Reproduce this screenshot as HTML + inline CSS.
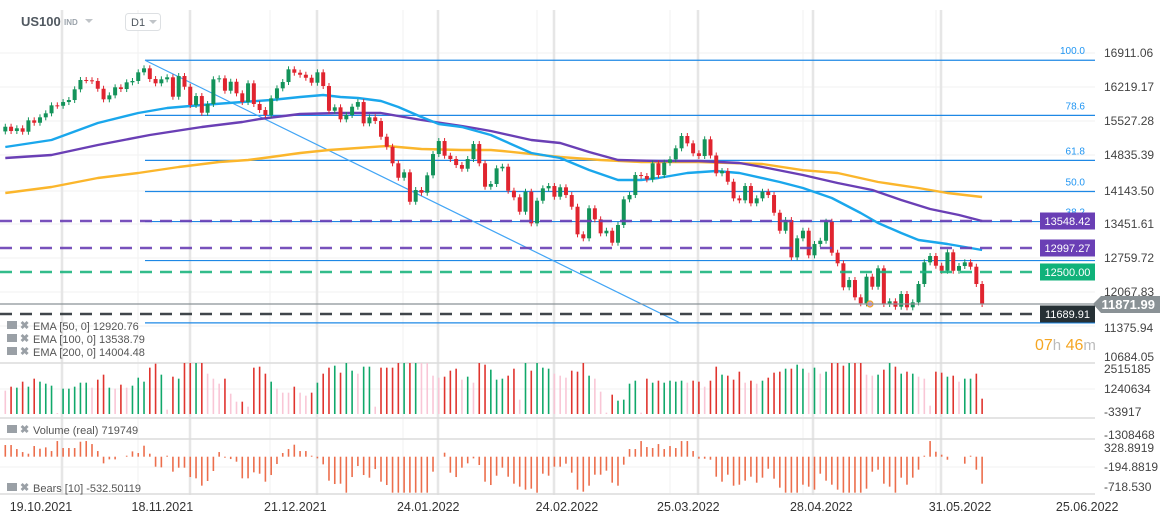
<!DOCTYPE html>
<html><head><meta charset="utf-8">
<style>
html,body{margin:0;padding:0;background:#fff;}
body{width:1163px;height:520px;overflow:hidden;font-family:"Liberation Sans",sans-serif;position:relative;}
svg{position:absolute;left:0;top:0;}
</style></head>
<body>
<svg id="chart" width="1163" height="520" viewBox="0 0 1163 520" xmlns="http://www.w3.org/2000/svg" font-family="Liberation Sans, sans-serif">
  <g id="grid"></g>
  <g id="fib"></g>
  <g id="emas"></g>
  <g id="candles"></g>
  <g id="levels"></g>
  <g id="volume"></g>
  <g id="bears"></g>
  <g id="axes"></g>
  <g>
    <text x="21" y="26" font-size="13" font-weight="bold" fill="#505860">US100</text>
    <text x="64" y="25" font-size="8" font-weight="bold" fill="#9aa2aa">IND</text>
    <path d="M85 19 L93 19 L89 23 Z" fill="#c0c4c8"/>
    <rect x="125.5" y="13.5" width="35" height="17" rx="3" fill="#fff" stroke="#dde0e3"/>
    <text x="131" y="26" font-size="11" fill="#505860">D1</text>
    <path d="M149 20 L157 20 L153 24 Z" fill="#c0c4c8"/>
  </g>
  <g id="legend"></g>
</svg>
<script>
// ---------- DATA ----------
const firstOpen = 15320;
const closes = [15415,15328,15383,15314,15545,15496,15606,15687,15849,15840,
15916,15957,16174,16363,16357,16343,16186,15971,16052,16215,
16180,16316,16343,16519,16600,16383,16296,16377,16418,16024,
16444,16227,15856,16038,15699,15876,16377,16397,16146,16328,
16093,15916,16296,15876,15754,15653,15991,16194,16322,16580,
16511,16470,16409,16308,16519,16241,15740,15809,15565,15653,
15821,15916,15484,15606,15531,15212,15009,14673,14380,14490,
13893,14131,14076,14429,14861,15125,14827,14760,14638,14563,
14760,15064,14673,14198,14253,14571,14604,14117,13983,13691,
14096,13455,13914,14165,14212,13995,14186,14029,13792,13232,
13151,13760,13536,13252,13305,13062,13421,13942,14029,14435,
14415,14348,14673,14435,14685,14754,14977,15227,15078,14876,
14821,15160,14831,14470,14516,14299,13962,13922,14212,13861,
13962,14096,14029,13670,13305,13522,12765,13151,13305,12806,
13035,13102,13488,12859,12644,12157,12305,11954,11832,12372,
12169,12542,11818,11873,11763,12021,11751,11852,12224,12664,
12792,12595,12493,12867,12493,12589,12664,12575,12224,11818];

const ema50Idx = [0,8,16,23,28,34,41,46,51,55,58,61,65,68,72,75,79,84,91,96,101,106,110,113,118,123,127,134,138,143,148,151,155,158,163,169];
const ema50Val = [15003,15145,15490,15693,15795,15856,15916,15957,16018,16059,16018,15998,15937,15815,15612,15470,15409,15247,14882,14780,14537,14334,14334,14374,14476,14516,14476,14293,14171,13969,13664,13461,13258,13116,13035,12913];
const ema100Idx = [0,8,16,25,34,41,44,51,58,65,72,79,84,91,96,101,106,113,120,127,131,138,144,150,155,160,165,169];
const ema100Val = [14780,14841,15044,15247,15409,15511,15572,15673,15693,15693,15551,15430,15328,15145,15085,14902,14740,14719,14719,14679,14598,14435,14273,14131,13928,13745,13624,13502];
const ema200Idx = [0,8,16,23,30,37,42,46,51,56,61,66,72,79,84,86,96,103,110,120,131,138,144,151,158,163,169];
const ema200Val = [14070,14192,14374,14476,14598,14699,14740,14800,14882,14943,14983,15024,14963,14943,14943,14922,14800,14740,14699,14699,14658,14534,14476,14293,14171,14070,13989];

// volume in thousands
const volumes = [1383,1620,1561,1917,1620,2095,1917,1798,1680,59,
1502,1502,1620,1857,1857,1561,2035,2332,1561,1502,
1739,1561,1680,2154,1917,2747,2984,2332,257,2213,
2095,3100,3100,3100,3100,2391,2095,1798,2095,1205,
731,731,435,2747,2806,2391,1917,1502,1265,1265,
1620,1265,1087,1265,1857,2391,2747,2865,2450,3100,
2569,2391,2806,2806,435,2747,2747,2747,3100,3100,
3100,3100,3100,3100,2272,2154,2213,2569,2687,2035,
2213,1857,3100,2924,2628,2035,2095,2272,2687,850,
3100,2569,3100,2747,2687,2391,2272,2154,2569,2510,
3100,2272,2095,1324,79,1146,790,850,1798,1976,
79,2095,1857,1976,1857,1976,1917,1976,1857,1976,
1917,1620,1976,2806,2332,2272,2035,2510,1857,1976,
1798,1976,2154,2450,2510,2687,2687,2924,2687,2450,
2747,2391,2510,3100,3100,2865,3100,3100,3100,2332,
2272,2332,2628,3100,2806,2391,2510,2391,2213,2095,
494,2510,2450,2213,2272,1917,2095,2095,2391,909];
const volumeKinds = ("prgrgrgggp"+"gggggprrgp"+"rpgggrrgpr"+"grrgrppprp"+"prprrrgppp"+
"rpprgrrgrg"+"gpggprrrrg"+"rgpppprrrp"+"gprrgggrrp"+"grgggppprr"+
"rgppprgggg"+"prgrggggpr"+"rprrgrrrpr"+"pgrrrgrggp"+"gpgrrrgrrp"+
"pgrgrgrgpp"+"prrgrpggrr").split("");

const bearsVals = [314,314,206,125,81,287,215,251,152,421,
233,233,233,403,421,340,152,-179,-72,-72,
0,27,143,99,296,81,-269,-287,27,-403,
-296,-296,-547,-582,-779,-654,-385,125,-27,-63,
-134,-582,-582,-421,-457,-672,-493,-197,99,206,
323,152,152,27,-45,-206,-645,-735,-726,-968,
-547,-251,-493,-564,-332,-672,-762,-968,-968,-968,
-968,-968,-968,-968,-403,0,108,-430,-547,-296,
-179,-45,-224,-672,-762,-511,-296,-538,-726,-806,
-887,-860,-968,-457,-511,-269,-269,-188,-430,-887,
-941,-780,-484,-484,-376,-699,-780,-215,206,206,
421,260,233,340,206,287,233,421,421,152,
-54,-54,-81,-538,-672,-484,-780,-753,-645,-538,
-699,-564,-323,-591,-833,-968,-968,-968,-753,-806,
-887,-457,-645,-753,-887,-968,-968,-968,-968,-860,
-403,-349,-726,-806,-968,-564,-753,-564,-349,27,
421,134,54,-81,0,0,-188,27,-349,-726];

const priceTicks = ["16911.06","16219.17","15527.28","14835.39","14143.50","13451.61","12759.72","12067.83","11375.94","10684.05"];
const priceTickY = [53,87,121,155,191,224,258,292,328,357];
const volTicks = ["2515185","1240634","-33917","-1308468"];
const volTickY = [369,389,412,435];
const bearTicks = ["328.8919","-194.8819","-718.530"];
const bearTickY = [448,467,487];
const dateLabels = ["19.10.2021","18.11.2021","21.12.2021","24.01.2022","24.02.2022","25.03.2022","28.04.2022","31.05.2022","25.06.2022"];
const dateIdx = [6,27,50,73,97,118,141,165,187];
const fibLabels = ["100.0","78.6","61.8","50.0","38.2"];
const fibPrices = [16764,15645,14733,14101,13491,12700,11435];

// ---------- SCALES ----------
const NS = "http://www.w3.org/2000/svg";
function xs(i){ return 5.3 + i*5.78; }
function yp(p){ return 53 + (16911.06 - p)*34.1/691.89; }
function yv(v){ return Math.max(363, 414 - v/59.28); }
function yb(b){ return Math.min(493, Math.max(441, 456.7 - b/26.9)); }
function mk(tag, attrs, parent){
  const el = document.createElementNS(NS, tag);
  for (const k in attrs) el.setAttribute(k, attrs[k]);
  parent.appendChild(el);
  return el;
}
const G = id => document.getElementById(id);

// ---------- GRID ----------
const grid = G('grid');
[53,87,121,155,191,224,258,292,326].forEach(y=>{
  const l = mk('line',{x1:0,x2:1095,y1:y,y2:y,stroke:'#f0f0f0','stroke-width':1},grid);
  
  
});
[389,467].forEach(y=>{
  const l = mk('line',{x1:0,x2:1095,y1:y,y2:y,stroke:'#f0f0f0','stroke-width':1},grid);
  
  
});
[62,190,317,438,554,698,813,941].forEach(x=>{
  const l = mk('line',{x1:x,x2:x,y1:10,y2:495,stroke:'#e6e6e6','stroke-width':2.5},grid);
  
  
});
[138,270,403,537,670,803,936].forEach(x=>{
  const l = mk('line',{x1:x,x2:x,y1:10,y2:495,stroke:'#f2f2f2','stroke-width':1},grid);
  
  
});
[[0,363,1095],[0,418,1095],[0,439,1095],[0,494,1095]].forEach(a=>{
  const l = mk('line',{x1:a[0],x2:a[2],y1:a[1],y2:a[1],stroke:'#dcdcdc','stroke-width':1.5},grid);
  
  
});

// ---------- FIB ----------
const fib = G('fib');
fibPrices.forEach((p,k)=>{
  const l = mk('line',{x1:145,x2:1095,y1:yp(p),y2:yp(p),stroke:'#1e88e5','stroke-width':1.2},fib);
  
  
});
fibLabels.forEach((t,k)=>{
  const tx = mk('text',{x:1085,y:yp(fibPrices[k])-6,'font-size':10,fill:'#2196f3','text-anchor':'end'},fib);
  tx.textContent = t;
  
  
});
const trend = mk('line',{x1:145,y1:yp(16764),x2:680,y2:yp(11435),stroke:'#42a5f5','stroke-width':1.2},fib);



// ---------- EMAs ----------
const emas = G('emas');
function emaPath(idx, val, color, name){
  let d = '';
  idx.forEach((i,k)=>{ d += (k?'L':'M') + xs(i).toFixed(1) + ' ' + yp(val[k]).toFixed(1) + ' '; });
  const p = mk('path',{d:d,fill:'none',stroke:color,'stroke-width':2.4,'stroke-linejoin':'round'},emas);
  
  
}
emaPath(ema200Idx, ema200Val, '#fbb62c', 'ema-200-line');
emaPath(ema100Idx, ema100Val, '#6a3fb5', 'ema-100-line');
emaPath(ema50Idx, ema50Val, '#1aa7ec', 'ema-50-line');

// ---------- CANDLES ----------
const cg = G('candles');
closes.forEach((c,i)=>{
  const o = i===0 ? firstOpen : closes[i-1];
  const up = c >= o;
  const col = up ? '#13935a' : '#e0242f';
  const x = xs(i);
  const top = yp(Math.max(o,c)), bot = yp(Math.min(o,c));
  const w = mk('line',{x1:x,x2:x,y1:top-3,y2:bot+3,stroke:col,'stroke-width':1},cg);
  
  
  const r = mk('rect',{x:x-2,y:top,width:4,height:Math.max(1,bot-top),fill:col},cg);
  
  
});
const mark = mk('circle',{cx:870,cy:304,r:3,fill:'#c9a0dc',stroke:'#f5a623','stroke-width':1.2},cg);



// ---------- LEVELS ----------
const lv = G('levels');
const cur = mk('line',{x1:0,x2:1095,y1:304,y2:304,stroke:'#8a9296','stroke-width':1.2},lv);


[[221,'#6a3fb5','level-13548'],[248,'#6a3fb5','level-12997'],[272,'#1db57f','level-12500'],[314,'#2c3338','level-11689']].forEach(a=>{
  const l = mk('line',{x1:0,x2:1040,y1:a[0],y2:a[0],stroke:a[1],'stroke-width':2.5,'stroke-dasharray':'12 8',opacity:0.9},lv);
  
  
});
[[221,'#6a3fb5','13548.42'],[248,'#6a3fb5','12997.27'],[272,'#10b27a','12500.00'],[314,'#263035','11689.91']].forEach(a=>{
  const r = mk('rect',{x:1040,y:a[0]-8.5,width:55,height:17,fill:a[1]},lv);
  
  
  const t = mk('text',{x:1067.5,y:a[0]+4,'font-size':11,fill:'#fff','text-anchor':'middle'},lv);
  t.textContent = a[2];
  
  
});
const curTag = mk('path',{d:'M1093 304 L1101 296 L1160 296 L1160 313 L1101 313 Z',fill:'#8a9296'},lv);


const curTxt = mk('text',{x:1155,y:309,'font-size':13,'font-weight':'bold',fill:'#fff','text-anchor':'end'},lv);
curTxt.textContent = '11871.99';



// ---------- VOLUME ----------
const vg = G('volume');
const volColor = {g:'#10a86a', r:'#e0342e', p:'#f9c6d6'};
volumes.forEach((v,i)=>{
  const l = mk('line',{x1:xs(i),x2:xs(i),y1:414,y2:yv(v),stroke:volColor[volumeKinds[i]],'stroke-width':1.6},vg);
  
  
});

// ---------- BEARS ----------
const bg = G('bears');
bearsVals.forEach((b,i)=>{
  if (b===0) return;
  const l = mk('line',{x1:xs(i),x2:xs(i),y1:456.7,y2:yb(b),stroke:'#ec6e4c','stroke-width':1.6},bg);
  
  
});

// ---------- AXES ----------
const ax = G('axes');
function axisText(arr, ys, name, color, size){
  arr.forEach((t,k)=>{
    const tx = mk('text',{x:1104,y:ys[k]+4,'font-size':size,fill:color},ax);
    tx.textContent = t;
    
    
  });
}
axisText(priceTicks, priceTickY, 'price-tick-label', '#444', 12);
axisText(volTicks, volTickY, 'volume-tick-label', '#444', 12);
axisText(bearTicks, bearTickY, 'bears-tick-label', '#444', 12);
dateLabels.forEach((t,k)=>{
  const tx = mk('text',{x:xs(dateIdx[k])+1,y:511,'font-size':12.5,fill:'#333','text-anchor':'middle'},ax);
  tx.textContent = t;
  
  
});
const timer = mk('text',{x:1035,y:350,'font-size':16,fill:'#f5a623'},ax);
timer.innerHTML = '07<tspan fill="#bbb" font-size="15">h</tspan> 46<tspan fill="#bbb" font-size="15">m</tspan>';



// ---------- LEGEND ----------
const lg = G('legend');
[['EMA [50, 0] 12920.76',326],['EMA [100, 0] 13538.79',339],['EMA [200, 0] 14004.48',352],['Volume (real) 719749',430],['Bears [10] -532.50119',488]].forEach(a=>{
  const ic = mk('rect',{x:7,y:a[1]-5,width:10,height:8,fill:'#9aa0a6'},lg);
  
  
  const cx = mk('text',{x:20,y:a[1]+3,'font-size':11,'font-weight':'bold',fill:'#9aa0a6'},lg);
  cx.textContent = '✖';
  
  
  const t = mk('text',{x:33,y:a[1]+4,'font-size':11,fill:'#555'},lg);
  t.textContent = a[0];
  
  
});
</script>
</body></html>
